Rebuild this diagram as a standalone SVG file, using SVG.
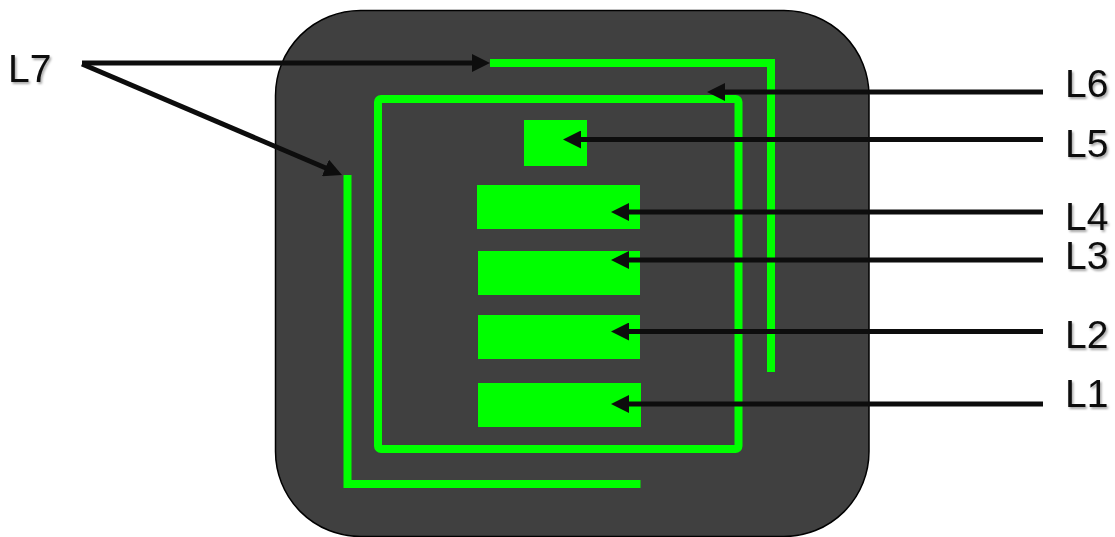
<svg xmlns="http://www.w3.org/2000/svg" width="1115" height="537" viewBox="0 0 1115 537">
  <style>
    .lbl { font-family: "Liberation Sans", Arial, sans-serif; font-size: 39px; fill: #0d0d0d; filter: url(#shadow); }
    .wire { fill: none; stroke: #00ff00; stroke-width: 8; }
    .pad { fill: #00ff00; }
    .arr { fill: none; stroke: #0d0d0d; stroke-width: 5; marker-end: url(#head); }
  </style>
  <defs>
    <marker id="head" viewBox="0 0 18 18" refX="8" refY="9" markerWidth="18" markerHeight="18" markerUnits="userSpaceOnUse" orient="auto">
      <path d="M0,0 L18,9 L0,18 Z" fill="#0d0d0d"/>
    </marker>
    <filter id="shadow" x="-20%" y="-20%" width="150%" height="150%">
      <feDropShadow dx="1.5" dy="2" stdDeviation="1" flood-color="#000" flood-opacity="0.35"/>
    </filter>
  </defs>
  <rect width="1115" height="537" fill="#ffffff"/>

  <g id="body">
    <rect x="275.5" y="10.5" width="593.5" height="526" rx="85" ry="85" fill="#404040" stroke="#000" stroke-width="1.5"/>
  </g>

  <g id="L7-shape">
    <polyline class="wire" points="490,63 771,63 771,372"/>
    <polyline class="wire" points="347.5,175 347.5,484 640.5,484" />
  </g>
  <g id="L6-shape">
    <rect class="wire" x="378" y="99" width="360.5" height="350" rx="3" stroke-linejoin="round"/>
  </g>
  <g id="L5-shape"><rect class="pad" x="524" y="120" width="63" height="46"/></g>
  <g id="L4-shape"><rect class="pad" x="477" y="185" width="163" height="44"/></g>
  <g id="L3-shape"><rect class="pad" x="478" y="251" width="162" height="44"/></g>
  <g id="L2-shape"><rect class="pad" x="478" y="315" width="162" height="44"/></g>
  <g id="L1-shape"><rect class="pad" x="478" y="383" width="163" height="44"/></g>

  <g id="connectors">
    <line class="arr" x1="82" y1="63" x2="480" y2="63"/>
    <line class="arr" x1="82" y1="64" x2="332.8" y2="171"/>
    <line class="arr" x1="1043" y1="92" x2="717" y2="92"/>
    <line class="arr" x1="1043" y1="139.5" x2="573" y2="139.5"/>
    <line class="arr" x1="1043" y1="212" x2="621" y2="212"/>
    <line class="arr" x1="1043" y1="260" x2="621" y2="260"/>
    <line class="arr" x1="1043" y1="331.5" x2="621" y2="331.5"/>
    <line class="arr" x1="1043" y1="404" x2="621" y2="404"/>
  </g>

  <g id="labels">
    <text class="lbl" x="8" y="82">L7</text>
    <text class="lbl" x="1065" y="97">L6</text>
    <text class="lbl" x="1065" y="157">L5</text>
    <text class="lbl" x="1065" y="230">L4</text>
    <text class="lbl" x="1065" y="269">L3</text>
    <text class="lbl" x="1065" y="348">L2</text>
    <text class="lbl" x="1065" y="407">L1</text>
  </g>
</svg>
